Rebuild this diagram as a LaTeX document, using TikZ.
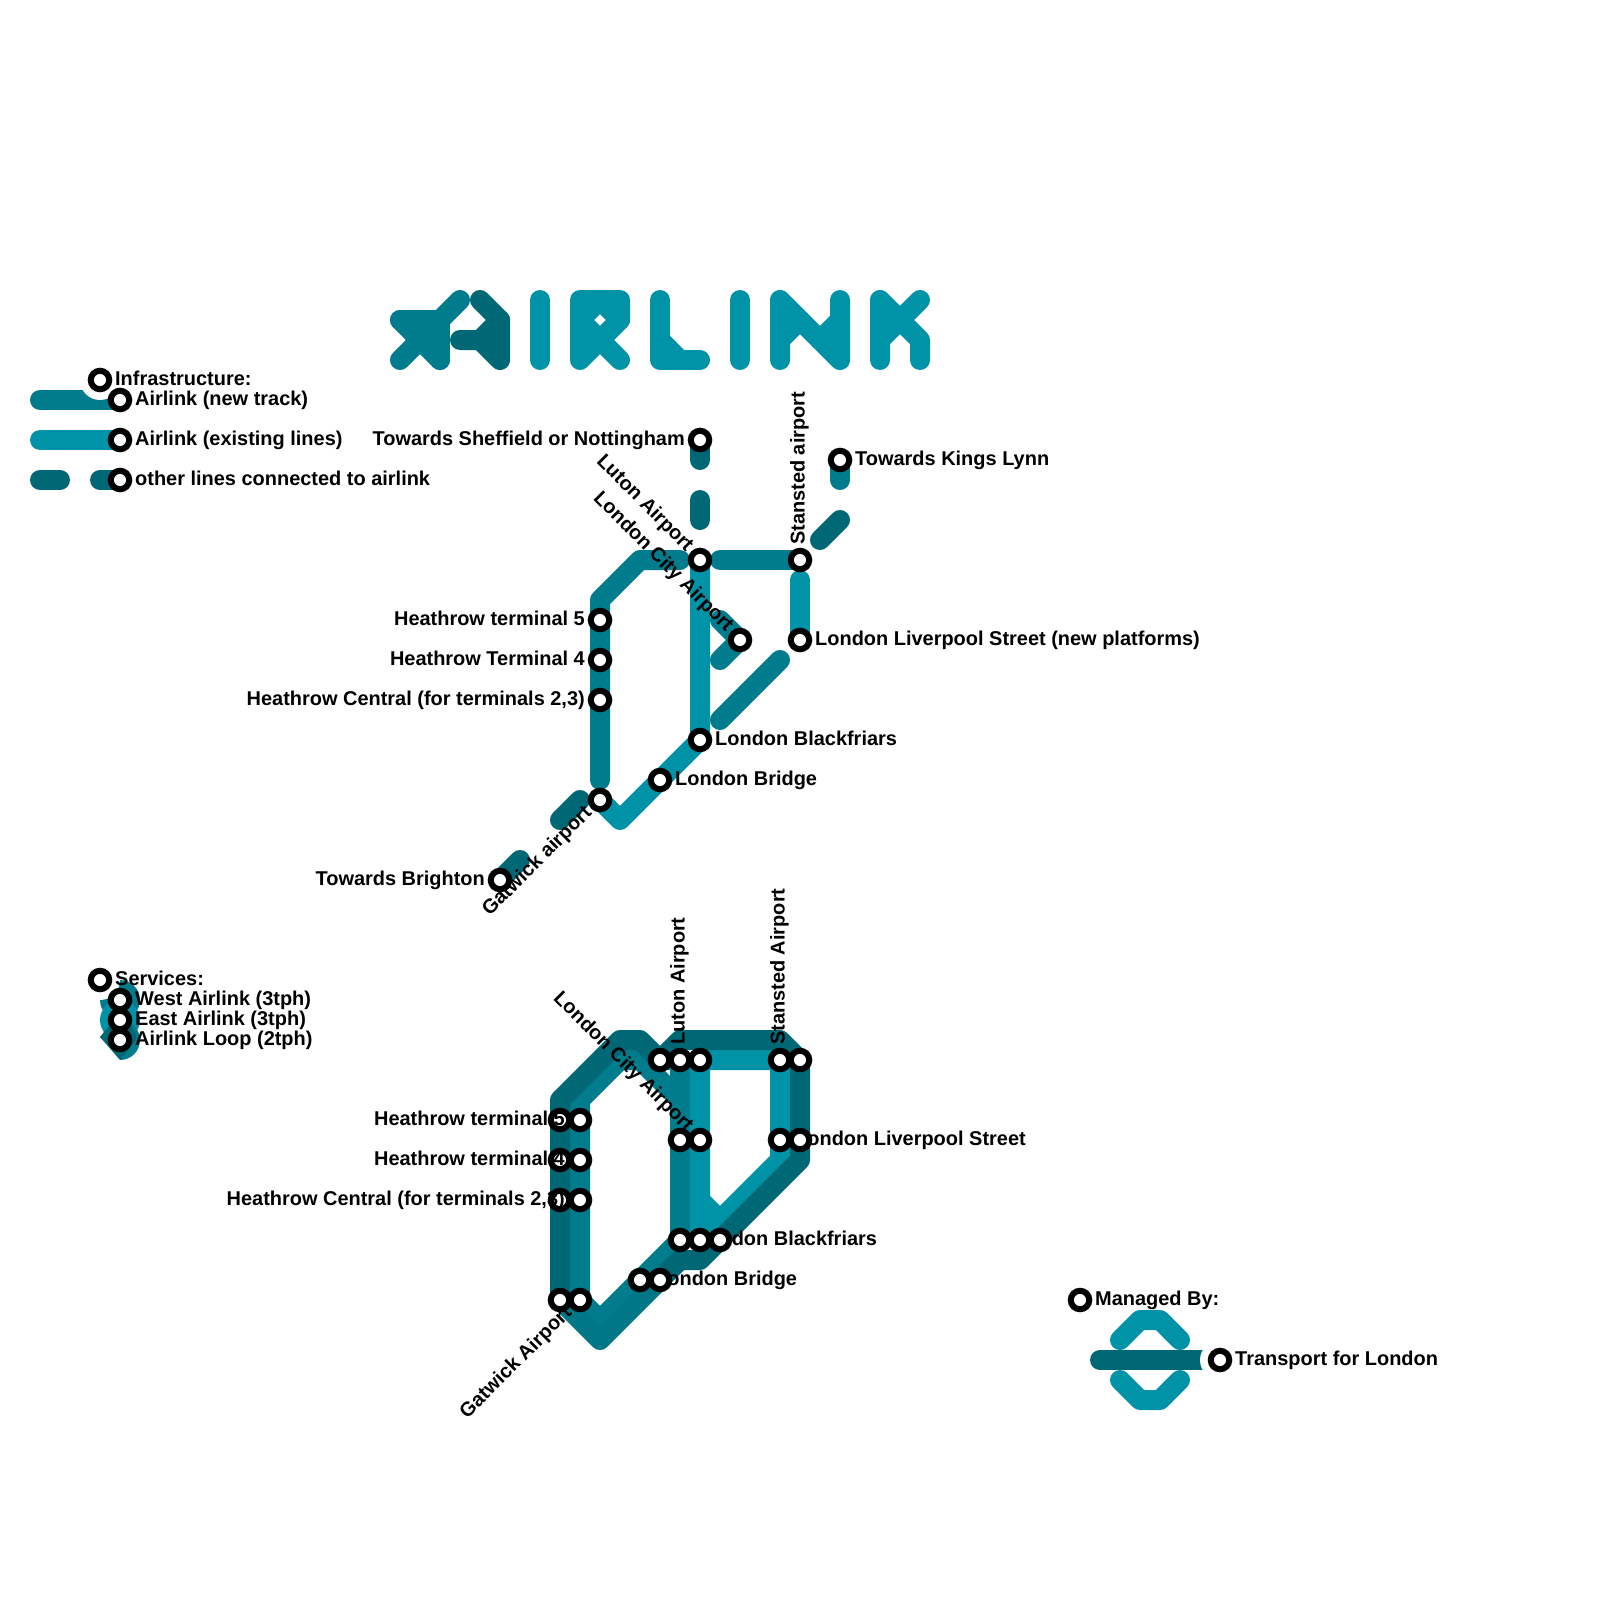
\documentclass[tikz,border=0pt]{standalone}
\usepackage{fontspec}
\setmainfont{Liberation Sans}
\usetikzlibrary{positioning, backgrounds}
\definecolor{airnew}{RGB}{0,124,140}
\definecolor{airmid}{RGB}{0,119,134}
\definecolor{airold}{RGB}{0,147,168}
\definecolor{airother}{RGB}{0,103,116}

\begin{document}
\begin{tikzpicture}[
    x=1pt, y=-1pt,
    track/.style={line width=20pt, line cap=round, line join=round},
    newtrack/.style={track, draw=airnew},
    midtrack/.style={track, draw=airmid},
    oldtrack/.style={track, draw=airold},
    othertrack/.style={track, draw=airother},
    stn/.style={circle, draw=black, fill=white, line width=6pt, minimum size=18.5pt, inner sep=0pt, outer sep=0pt},
    lbl/.style={font=\fontsize{19.95}{24}\bfseries\selectfont, text=black, inner sep=0pt},
    namer/.style={lbl, anchor=base west, xshift=15pt, yshift=-5.3pt},
    namel/.style={lbl, anchor=base east, xshift=-15pt, yshift=-5.3pt},
    nameup/.style={lbl, xshift=4.5pt, yshift=15pt, rotate=90, anchor=base west},
    namedown/.style={lbl, xshift=-14pt, yshift=7.4pt, rotate=-45, anchor=base east},
    nameslope/.style={lbl, xshift=-7.4pt, yshift=-14pt, rotate=45, anchor=base east},
    halo/.style={fill=white}
]
\useasboundingbox (0,0) rectangle (1600,1600);

% Legend stations
\node[stn] (infra) at (100,380) {};
\node[stn] (lnew) at (120,400) {};
\node[stn] (lold) at (120,440) {};
\node[stn] (loth) at (120,480) {};
\node[stn] (serv) at (100,980) {};
\node[stn] (lwest) at (120,1000) {};
\node[stn] (least) at (120,1020) {};
\node[stn] (lloop) at (120,1040) {};
\node[stn] (mgd) at (1080,1300) {};
\node[stn] (tfl) at (1220,1360) {};

% Infrastructure map stations
\node[stn] (sheff) at (700,440) {};
\node[stn] (kings) at (840,460) {};
\node[stn] (luton) at (700,560) {};
\node[stn] (stan) at (800,560) {};
\node[stn] (t5) at (600,620) {};
\node[stn] (t4) at (600,660) {};
\node[stn] (tc) at (600,700) {};
\node[stn] (city) at (740,640) {};
\node[stn] (lst) at (800,640) {};
\node[stn] (blf) at (700,740) {};
\node[stn] (lbg) at (660,780) {};
\node[stn] (gat) at (600,800) {};
\node[stn] (bton) at (500,880) {};

% Services map stations on the far left, labels go over them
\node[stn] (st5a) at (560,1120) {};
\node[stn] (st4a) at (560,1160) {};
\node[stn] (stca) at (560,1200) {};
\node[stn] (sgata) at (560,1300) {};

% Lines, kept under the stations
\begin{scope}[on background layer]
% Logo
\draw[newtrack] (400,320) -- (440,320) -- (440,360);
\draw[newtrack] (400,320) -- (440,360);
\draw[newtrack] (400,360) -- (460,300);
\draw[othertrack] (480,300) -- (500,320) -- (500,360) -- (480,340) -- (460,340);
\draw[othertrack] (480,340) -- (500,320);
\draw[oldtrack] (540,300) -- (540,360);
\draw[oldtrack] (580,360) -- (580,300) -- (620,300) -- (620,320) -- (580,360);
\draw[oldtrack] (600,340) -- (620,360);
\draw[oldtrack] (580,320) -- (600,340);
\draw[oldtrack] (580,320) -- (600,300) -- (620,320);
\draw[oldtrack] (660,300) -- (660,360) -- (700,360);
\draw[oldtrack] (660,340) -- (680,360);
\draw[oldtrack] (740,300) -- (740,360);
\draw[oldtrack] (780,360) -- (780,300) -- (840,360) -- (840,300);
\draw[oldtrack] (780,340) -- (800,320);
\draw[oldtrack] (820,340) -- (840,320);
\draw[oldtrack] (880,360) -- (880,300) -- (920,340) -- (920,360);
\draw[oldtrack] (920,300) -- (880,340);

% Legend lines
\draw[newtrack] (40,400) -- (lnew.center);
\draw[oldtrack] (40,440) -- (lold.center);
\draw[othertrack] (40,480) -- (60,480);
\draw[othertrack] (100,480) -- (loth.center);
\fill[halo] (infra) circle (20);

% Services legend
\fill[airnew] (lwest) circle (20);
\fill[airold] (least) circle (20);
\fill[airnew] (120,1060) arc (90:-90:20) -- cycle;
\fill[airother] (100,1037) -- (108,1027) -- (127,1024) .. controls (134,1028) and (137,1033) .. (136,1040) -- (128,1050) -- (120,1060) -- cycle;
\fill[halo] (serv) circle (20);

% Managed by roundel
\draw[oldtrack] (1120,1340) -- (1140,1320) -- (1160,1320) -- (1180,1340);
\draw[oldtrack] (1120,1380) -- (1140,1400) -- (1160,1400) -- (1180,1380);
\draw[othertrack] (1100,1360) -- (tfl.center);
\fill[halo] (tfl) circle (20);

% Infrastructure map
\draw[othertrack] (sheff.center) -- (700,460);
\draw[othertrack] (700,500) -- (700,520);
\draw[newtrack] (kings.center) -- (840,480);
\draw[othertrack] (820,540) -- (840,520);
\draw[newtrack] (600,780) -- (t5.center) -- (600,600) -- (640,560) -- (680,560);
\draw[newtrack] (720,560) -- (stan.center);
\draw[oldtrack] (800,580) -- (lst.center);
\draw[newtrack] (720,620) -- (city.center) -- (720,660);
\draw[newtrack] (720,720) -- (780,660);
\draw[oldtrack] (luton.center) -- (blf.center) -- (620,820) -- (gat.center);
\draw[othertrack] (560,820) -- (580,800);
\draw[othertrack] (bton.center) -- (520,860);

% Services map
\draw[newtrack] (580,1300) -- (580,1100) -- (620,1060) -- (640,1060) -- (680,1100) -- (680,1240) -- (600,1320) -- (580,1300);
\draw[newtrack] (640,1060) -- (680,1060) -- (680,1100);
\draw[midtrack] (660,1280) -- (600,1340) -- (sgata.center);
\draw[oldtrack] (700,1240) -- (700,1060) -- (780,1060) -- (780,1160) -- (700,1240);
\draw[oldtrack] (700,1200) -- (720,1220);
\draw[othertrack] (sgata.center) -- (st5a.center) -- (560,1100) -- (620,1040) -- (640,1040) -- (660,1060) -- (680,1040) -- (780,1040) -- (800,1060) -- (800,1160) -- (700,1260) -- (680,1260) -- (660,1280);
\end{scope}

% Legend labels
\node[namer] (infralbl) at (infra) {Infrastructure:};
\node[namer] (lnewlbl) at (lnew) {Airlink (new track)};
\node[namer] (loldlbl) at (lold) {Airlink (existing lines)};
\node[namer] (lothlbl) at (loth) {other lines connected to airlink};
\node[namer] (servlbl) at (serv) {Services:};
\node[namer] (lwestlbl) at (lwest) {West Airlink (3tph)};
\node[namer] (leastlbl) at (least) {East Airlink (3tph)};
\node[namer] (llooplbl) at (lloop) {Airlink Loop (2tph)};
\node[namer] (mgdlbl) at (mgd) {Managed By:};
\node[namer] (tfllbl) at (tfl) {Transport for London};

% Infrastructure map labels
\node[namel] (shefflbl) at (sheff) {Towards Sheffield or Nottingham};
\node[namer] (kingslbl) at (kings) {Towards Kings Lynn};
\node[namedown] (lutonlbl) at (luton) {Luton Airport};
\node[nameup] (stanlbl) at (stan) {Stansted airport};
\node[namel] (t5lbl) at (t5) {Heathrow terminal 5};
\node[namel] (t4lbl) at (t4) {Heathrow Terminal 4};
\node[namel] (tclbl) at (tc) {Heathrow Central (for terminals 2,3)};
\node[namedown] (citylbl) at (city) {London City Airport};
\node[namer] (lstlbl) at (lst) {London Liverpool Street (new platforms)};
\node[namer] (blflbl) at (blf) {London Blackfriars};
\node[namer] (lbglbl) at (lbg) {London Bridge};
\node[nameslope] (gatlbl) at (gat) {Gatwick airport};
\node[namel] (btonlbl) at (bton) {Towards Brighton};

% Services map, the labels that stations cover come first
\node[namer] (sblflbl) at (680,1240) {London Blackfriars};
\node[namer] (slbglbl) at (640,1280) {London Bridge};
\node[namer] (slstlbl) at (780,1140) {London Liverpool Street};

\node[stn] (st5b) at (580,1120) {};
\node[stn] (st4b) at (580,1160) {};
\node[stn] (stcb) at (580,1200) {};
\node[stn] (sgatb) at (580,1300) {};
\node[stn] (slua) at (660,1060) {};
\node[stn] (slub) at (680,1060) {};
\node[stn] (sluc) at (700,1060) {};
\node[stn] (ssta) at (780,1060) {};
\node[stn] (sstb) at (800,1060) {};
\node[stn] (scia) at (680,1140) {};
\node[stn] (scib) at (700,1140) {};
\node[stn] (slsa) at (780,1140) {};
\node[stn] (slsb) at (800,1140) {};
\node[stn] (sbfa) at (680,1240) {};
\node[stn] (sbfb) at (700,1240) {};
\node[stn] (sbfc) at (720,1240) {};
\node[stn] (sbga) at (640,1280) {};
\node[stn] (sbgb) at (660,1280) {};

\node[namel] (st5lbl) at (st5b) {Heathrow terminal 5};
\node[namel] (st4lbl) at (st4b) {Heathrow terminal 4};
\node[namel] (stclbl) at (stcb) {Heathrow Central (for terminals 2,3)};
\node[nameslope] (sgatlbl) at (sgatb) {Gatwick Airport};
\node[nameup] (slulbl) at (slub) {Luton Airport};
\node[nameup] (sstlbl) at (ssta) {Stansted Airport};
\node[namedown] (scilbl) at (scib) {London City Airport};

\end{tikzpicture}
\end{document}
